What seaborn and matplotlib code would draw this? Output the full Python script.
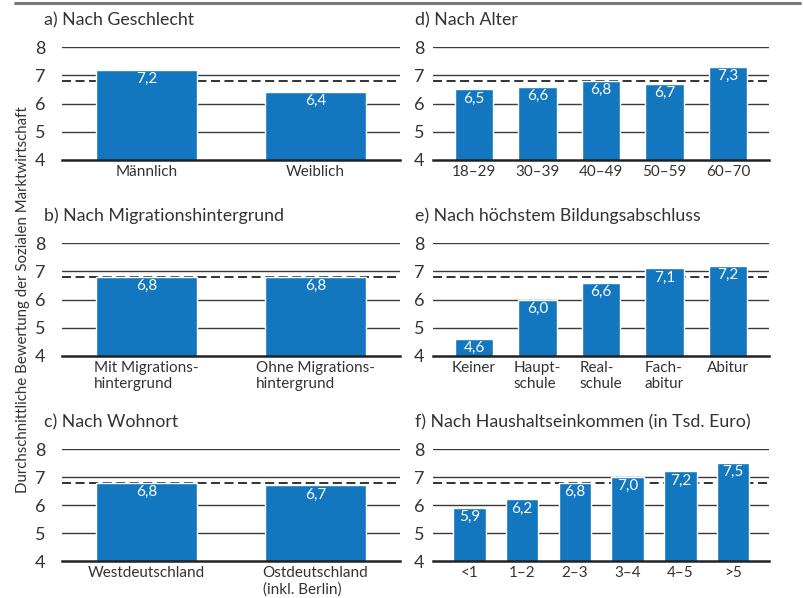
import matplotlib
matplotlib.use("Agg")
import matplotlib.pyplot as plt
from matplotlib.lines import Line2D
import seaborn as sns

# data
mean_all = 6.8

cats_a = ["Männlich", "Weiblich"]
vals_a = [7.2, 6.4]

cats_b = ["Mit Migrations-\nhintergrund", "Ohne Migrations-\nhintergrund"]
vals_b = [6.8, 6.8]

cats_c = ["Westdeutschland", "Ostdeutschland\n(inkl. Berlin)"]
vals_c = [6.8, 6.7]

cats_d = ["18\u201329", "30\u201339", "40\u201349", "50\u201359", "60\u201370"]
vals_d = [6.5, 6.6, 6.8, 6.7, 7.3]

cats_e = ["Keiner", "Haupt-\nschule", "Real-\nschule", "Fach-\nabitur", "Abitur"]
vals_e = [4.6, 6.0, 6.6, 7.1, 7.2]

cats_f = ["<1", "1\u20132", "2\u20133", "3\u20134", "4\u20135", ">5"]
vals_f = [5.9, 6.2, 6.8, 7.0, 7.2, 7.5]

titles = ["a) Nach Geschlecht", "b) Nach Migrationshintergrund", "c) Nach Wohnort",
          "d) Nach Alter", "e) Nach höchstem Bildungsabschluss",
          "f) Nach Haushaltseinkommen (in Tsd. Euro)"]

sns.set_theme(style="white")
plt.rcParams['font.family'] = ['Lato', 'DejaVu Sans']

BLUE = "#1277be"
TXT = "#333333"
W, H = 804, 598

fig = plt.figure(figsize=(8.04, 5.98), dpi=100)

def px_axes(left, top, right, bottom):
    return fig.add_axes([left / W, 1 - bottom / H, (right - left) / W, (bottom - top) / H])

rows = [(47, 160), (243, 356), (449, 561)]
panels = [
    (cats_a, vals_a, 0, 0), (cats_b, vals_b, 0, 1), (cats_c, vals_c, 0, 2),
    (cats_d, vals_d, 1, 0), (cats_e, vals_e, 1, 1), (cats_f, vals_f, 1, 2),
]

for (cats, vals, col, row), title in zip(panels, titles):
    top, bottom = rows[row]
    if col == 0:
        ax = px_axes(62, top, 400, bottom)
    else:
        ax = px_axes(433, top, 769, bottom)
    n = len(cats)
    width = 0.6 if n == 2 else (0.61 if n == 5 else 0.62)
    for y in [5, 6, 7, 8]:
        ax.axhline(y, color="#3a3a3a", lw=1.0, zorder=0)
    ax.axhline(mean_all, color="#222222", lw=1.3, ls=(0, (5, 2.5)), zorder=0.5)
    sns.barplot(x=cats, y=vals, ax=ax, color=BLUE, width=width, saturation=1, zorder=2)
    for p in ax.patches:
        h = p.get_height()
        ax.annotate(f"{h:.1f}".replace(".", ","), (p.get_x() + p.get_width() / 2, h),
                    xytext=(0, -1.5), textcoords="offset points", ha="center", va="top",
                    color="white", fontsize=11, zorder=3)
    ax.set_ylim(4, 8)
    if n == 5:
        ax.set_xlim(-0.645, 4.645)
    elif n == 6:
        ax.set_xlim(-0.69, 5.68)
    else:
        ax.set_xlim(-0.5, 1.5)
    ax.set_xticks(range(n), cats, multialignment="left", linespacing=1.2)
    ax.set_yticks([4, 5, 6, 7, 8])
    ax.set_ylabel("")
    ax.set_xlabel("")
    for s in ["top", "right", "left"]:
        ax.spines[s].set_visible(False)
    ax.spines["bottom"].set_color("#222222")
    ax.spines["bottom"].set_linewidth(1.8)
    ax.spines["bottom"].set_zorder(4)
    ax.tick_params(axis="y", length=0, labelsize=13, labelcolor=TXT, pad=12 if col == 0 else 6)
    ax.tick_params(axis="x", length=0, labelsize=11, labelcolor=TXT, pad=3.5)
    ax.set_facecolor("none")
    ax.annotate(title, xy=(0, 1), xycoords="axes fraction", xytext=(-18, 27),
                textcoords="offset pixels", ha="left", va="center", fontsize=12.8, color=TXT)

fig.text(23 / W, 1 - 300 / H, "Durchschnittliche Bewertung der Sozialen Marktwirtschaft",
         rotation=90, ha="center", va="center", fontsize=10.8, color=TXT)
fig.add_artist(Line2D([15 / W, 800 / W], [1 - 3 / H, 1 - 3 / H], color="#7a7a7a", lw=2.2))

fig.savefig("out.png", dpi=100)
